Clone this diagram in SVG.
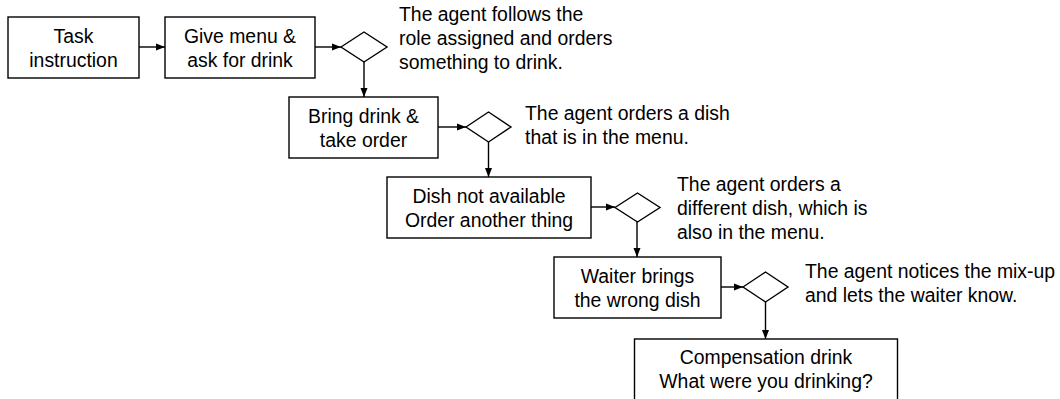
<svg xmlns="http://www.w3.org/2000/svg" width="1060" height="399" viewBox="0 0 1060 399">
<style>
.box{fill:#fff;stroke:#000;stroke-width:1.4}
.dia{fill:#fff;stroke:#000;stroke-width:1.4}
.t{font-family:"Liberation Sans",Arial,sans-serif;font-size:19.4px;fill:#000}
.c{text-anchor:middle}
.con{stroke:#000;stroke-width:1.4;fill:none;marker-end:url(#ah)}
</style>
<defs>
<marker id="ah" markerUnits="userSpaceOnUse" markerWidth="9" markerHeight="8" refX="9" refY="4" orient="auto">
<path d="M0,0.5 L9,4 L0,7.5 z" fill="#000"/>
</marker>
</defs>
<rect width="1060" height="399" fill="#fff"/>
<g id="connectors">
<line class="con" x1="139" y1="47" x2="165" y2="47"/>
<line class="con" x1="315" y1="47" x2="341" y2="47"/>
<line class="con" x1="364" y1="62" x2="364" y2="97"/>
<line class="con" x1="438" y1="127" x2="466" y2="127"/>
<line class="con" x1="488.5" y1="142" x2="488.5" y2="177"/>
<line class="con" x1="591" y1="207" x2="615" y2="207"/>
<line class="con" x1="637" y1="222" x2="637" y2="257"/>
<line class="con" x1="721" y1="287" x2="743" y2="287"/>
<line class="con" x1="765.5" y1="302" x2="765.5" y2="339"/>
</g>
<g id="n-task">
<rect class="box" x="8" y="17" width="131" height="61"/>
<text class="t c" x="73.5" y="43">Task</text>
<text class="t c" x="73.5" y="67">instruction</text>
</g>
<g id="n-menu">
<rect class="box" x="165" y="17" width="150" height="61"/>
<text class="t c" x="240" y="43">Give menu &amp;</text>
<text class="t c" x="240" y="67">ask for drink</text>
</g>
<g id="d1">
<polygon class="dia" points="341,47 364,32 387,47 364,62"/>
</g>
<g id="a1">
<text class="t" x="399" y="21">The agent follows the</text>
<text class="t" x="399" y="45">role assigned and orders</text>
<text class="t" x="399" y="69">something to drink.</text>
</g>
<g id="n-bring">
<rect class="box" x="289" y="97" width="149" height="61"/>
<text class="t c" x="363.5" y="123">Bring drink &amp;</text>
<text class="t c" x="363.5" y="147">take order</text>
</g>
<g id="d2">
<polygon class="dia" points="466,127 488.5,112 511,127 488.5,142"/>
</g>
<g id="a2">
<text class="t" x="525" y="120">The agent orders a dish</text>
<text class="t" x="525" y="144">that is in the menu.</text>
</g>
<g id="n-dish">
<rect class="box" x="387" y="177" width="204" height="61"/>
<text class="t c" x="489" y="203">Dish not available</text>
<text class="t c" x="489" y="227">Order another thing</text>
</g>
<g id="d3">
<polygon class="dia" points="615,207.5 637.5,193 660,207.5 637.5,222"/>
</g>
<g id="a3">
<text class="t" x="677" y="191">The agent orders a</text>
<text class="t" x="677" y="215">different dish, which is</text>
<text class="t" x="677" y="239">also in the menu.</text>
</g>
<g id="n-waiter">
<rect class="box" x="554" y="257" width="167" height="61"/>
<text class="t c" x="637.5" y="283">Waiter brings</text>
<text class="t c" x="637.5" y="307">the wrong dish</text>
</g>
<g id="d4">
<polygon class="dia" points="743,287 765.5,272 788,287 765.5,302"/>
</g>
<g id="a4">
<text class="t" x="805" y="278">The agent notices the mix-up</text>
<text class="t" x="805" y="302">and lets the waiter know.</text>
</g>
<g id="n-comp">
<rect class="box" x="634.5" y="339" width="263" height="80"/>
<text class="t c" x="766" y="364">Compensation drink</text>
<text class="t c" x="766" y="388">What were you drinking?</text>
</g>
</svg>
